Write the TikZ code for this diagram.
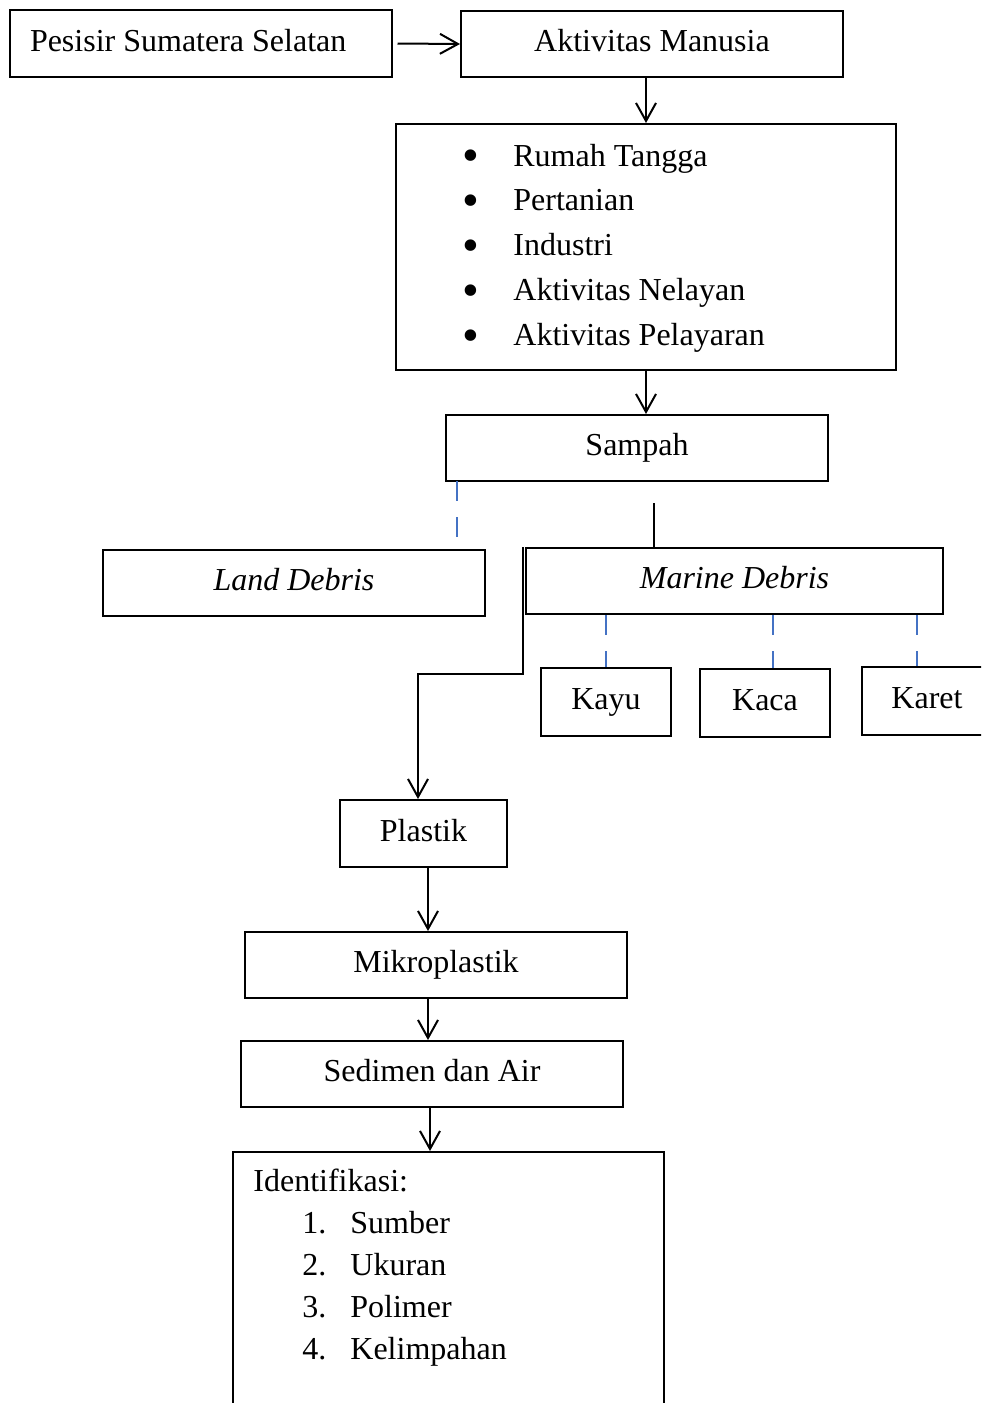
\documentclass[tikz,border=0pt]{standalone}
\usepackage{fontspec}
\setmainfont{Liberation Serif}
\usetikzlibrary{positioning,arrows.meta}
\definecolor{garisbiru}{RGB}{68,114,196}
\newcommand{\titik}{\smash{\raisebox{-2.9pt}{\scalebox{1.5}{\textbullet}}}}
\tikzset{ %
  ,>={Straight Barb[length=9pt,width=10pt]}
  ,every node/.style={font=\fontsize{16}{19.2}\selectfont}
  ,kotak/.style={draw, rectangle, line width=1pt, inner sep=0, minimum width=191pt, minimum height=33pt, text height=11pt, text depth=3.5pt}
  ,kecil/.style={kotak, minimum width=65pt, minimum height=34pt}
  ,isi/.style={inner sep=0, anchor=base west}
  ,putus/.style={draw=garisbiru, line width=0.8pt, dash pattern=on 10pt off 8pt}
  ,panah/.style={->, line width=1pt}
}
\begin{document}
\begin{tikzpicture}[x=0.5pt, y=-0.5pt]
      \useasboundingbox (0,0) rectangle (981,1403);
      \clip (0,0) rectangle (981,1403);
      \node[kotak, minimum height=33.5pt, text width=170.5pt, inner xsep=10pt, align=flush left] (pesisir) at (200.5,43.5) {Pesisir Sumatera Selatan};
      \node[kotak] (aktivitas) at (652,44) {Aktivitas Manusia};
      \node[kotak, minimum width=250pt, minimum height=123pt, text height=, text depth=] (kegiatan) at (646,247) {};
      \node[isi, font=\fontsize{16}{22.4}\selectfont] (butir) at (462,166) {\begin{tabular}[t]{@{}p{25.5pt}@{}l@{}}
        \titik & Rumah Tangga\\
        \titik & Pertanian\\
        \titik & Industri\\
        \titik & Aktivitas Nelayan\\
        \titik & Aktivitas Pelayaran
      \end{tabular}};
      \node[kotak] (sampah) at (637,448) {Sampah};
      \node[kotak] (land) at (294,583) {\textit{Land Debris}};
      \node[kotak, minimum width=208.5pt] (marine) at (734.5,581) {\textit{Marine Debris}};
      \node[kecil] (kayu) at (606,702) {Kayu};
      \node[kecil] (kaca) at (765,703) {Kaca};
      \node[kecil] (karet) at (927,701) {Karet};
      \node[kotak, minimum width=83.5pt, minimum height=33.5pt] (plastik) at (423.5,833.5) {Plastik};
      \node[kotak] (mikro) at (436,965) {Mikroplastik};
      \node[kotak] (sedimen) at (432,1074) {Sedimen dan Air};
      \node[kotak, minimum width=215.5pt, minimum height=150pt, text height=, text depth=, anchor=north] (identifikasi) at (448.5,1151) {};
      \node[isi, font=\fontsize{16}{21.1}\selectfont] (tujuan) at (253,1191) {\begin{tabular}[t]{@{\hspace{24.5pt}}p{24pt}@{}l@{}}
        \multicolumn{2}{@{}l@{}}{Identifikasi:}\\
        1. & Sumber\\
        2. & Ukuran\\
        3. & Polimer\\
        4. & Kelimpahan
      \end{tabular}};
      % titik bantu
      \coordinate (cabang) at (457,481);
      \coordinate (pisah) at (654,503);
      \coordinate (belok) at (418,674);
      \coordinate (kacaatas) at ([xshift=4pt]kaca.north);
      \coordinate (karetatas) at ([xshift=-5pt]karet.north);
      \coordinate (p1) at ([xshift=2.25pt]plastik.south);
      \coordinate (p2) at ([xshift=-4pt]mikro.south);
      \coordinate (p3) at ([xshift=-1pt]sedimen.south);
      \draw[panah] ([xshift=2.5pt]pesisir.east) -- (aktivitas.west);
      \draw[panah] (aktivitas.south -| kegiatan.north) -- (kegiatan.north);
      \draw[panah] (kegiatan.south) -- (kegiatan.south |- sampah.north);
      \draw[putus] (cabang) -- (cabang |- land.north);
      \draw[line width=1pt] (pisah) -- (pisah |- marine.north);
      \draw[putus] (marine.south -| kayu.north) -- (kayu.north);
      \draw[putus] (kacaatas |- marine.south) -- (kacaatas);
      \draw[putus] (karetatas |- marine.south) -- (karetatas);
      \draw[panah] ([xshift=-1pt]marine.north west) |- (belok) -- (belok |- plastik.north);
      \draw[panah] (p1) -- (p1 |- mikro.north);
      \draw[panah] (p2) -- (p2 |- sedimen.north);
      \draw[panah] (p3) -- (p3 |- identifikasi.north);
    \end{tikzpicture}
\end{document}
